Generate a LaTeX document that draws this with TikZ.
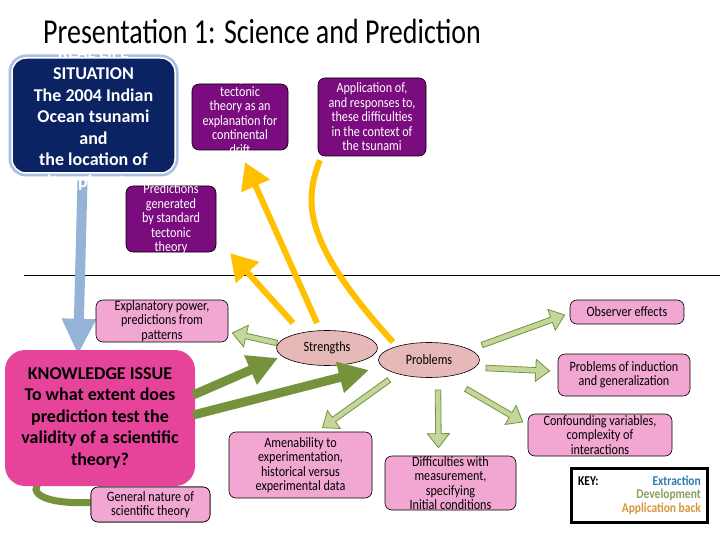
\documentclass[tikz,border=0pt]{standalone}
\usepackage{fontspec}
\setmainfont{Carlito}
\newfontfamily\boxfont{Carlito}[FakeStretch=0.85]
\newfontfamily\titlefont{Carlito}[FakeStretch=0.8]
\usetikzlibrary{arrows.meta,calc,shapes.geometric}

\definecolor{tsNavy}{HTML}{0B2362}
\definecolor{tsGlow}{HTML}{A9C0E2}
\definecolor{tsPurple}{HTML}{7B0C80}
\definecolor{tsPink}{HTML}{F2A7D2}
\definecolor{tsMagenta}{HTML}{E6449B}
\definecolor{tsRose}{HTML}{E6B9B8}
\definecolor{tsOlive}{HTML}{76923C}
\definecolor{tsLeaf}{HTML}{C3D69B}
\definecolor{tsYellow}{HTML}{FFC000}
\definecolor{tsBlue}{HTML}{95B3D7}
\definecolor{tsKeyBlue}{HTML}{2A7AB0}
\definecolor{tsKeyGreen}{HTML}{8A9E5E}
\definecolor{tsKeyOrange}{HTML}{D9963A}

\tikzset{
  rlbox/.style={fill=tsNavy, draw=white, line width=1.5pt, rounded corners=14pt,
    preaction={draw=tsGlow, line width=7pt}},
  purplebox/.style={fill=tsPurple, draw=black, line width=0.6pt, rounded corners=7pt},
  pinkbox/.style={fill=tsPink, draw=black, line width=0.6pt, rounded corners=7pt,
    align=center, inner sep=0pt, font=\boxfont\fontsize{14.3}{14.5}\selectfont},
  kibox/.style={fill=tsMagenta, draw=none, rounded corners=20pt, align=center,
    inner sep=0pt, font=\bfseries\fontsize{18}{21.5}\selectfont},
  boxtext/.style={align=center, inner sep=0pt, font=\boxfont\fontsize{14.3}{14.5}\selectfont},
  bigtext/.style={align=center, inner sep=0pt, font=\bfseries\fontsize{18}{21.5}\selectfont},
  bubble/.style={ellipse, fill=tsRose, draw=black, line width=0.6pt, inner sep=0pt,
    minimum width=101pt, minimum height=35pt, font=\boxfont\fontsize{14.3}{14.5}\selectfont},
  keytext/.style={inner sep=0pt, font=\boxfont\bfseries\fontsize{13.5}{14}\selectfont},
  extractarrow/.style={draw=tsBlue, line width=10pt, -{Triangle[length=36pt,width=32pt]}},
  appback/.style={draw=tsYellow, line width=6pt, -{Triangle[length=26pt,width=30pt]}},
  appcurve/.style={draw=tsYellow, line width=6pt},
  develop/.style={draw=tsOlive, line width=9pt, -{Triangle[length=30pt,width=30pt]}},
  devcurve/.style={draw=tsOlive, line width=7pt},
  leafarrow/.style={fill=tsLeaf, draw=tsOlive, line width=0.8pt, line join=miter}
}

% outlined block arrow from #1 to the tip #2
\newcommand{\leafarrow}[2]{%
  \coordinate (la-s) at (#1);
  \coordinate (la-t) at (#2);
  \coordinate (la-h) at ($(la-t)!14pt!(la-s)$);
  \draw[leafarrow] ($(la-s)!2.8pt!90:(la-t)$) -- ($(la-h)!2.8pt!90:(la-t)$)
    -- ($(la-h)!11pt!90:(la-t)$) -- (la-t) -- ($(la-h)!11pt!-90:(la-t)$)
    -- ($(la-h)!2.8pt!-90:(la-t)$) -- ($(la-s)!2.8pt!-90:(la-t)$) -- cycle;}

\begin{document}
\begin{tikzpicture}[x=1pt,y=-1pt]
  \useasboundingbox (0,0) rectangle (720,540);
  \fill[white] (0,0) rectangle (720,540);

  \node[inner sep=0pt, anchor=base west, font=\titlefont\fontsize{35}{35}\selectfont]
    (title) at (43,44) {Presentation 1: Science and Prediction};

  \draw[line width=0.8pt] (24,275) -- (720,275);

  % positions of the boxes
  \coordinate (situation-c) at (93.5,115.5);
  \coordinate (drift-c) at (240,117);
  \coordinate (apply-c) at (372,117);
  \coordinate (predict-c) at (171,219);
  \coordinate (kissue-c) at (100,418);

  % application back (drawn under the boxes)
  \path (predict-c) node[minimum width=90pt, minimum height=66pt] (predict) {};
  \path (drift-c) node[minimum width=96pt, minimum height=66pt] (drift) {};
  \path (apply-c) node[minimum width=108pt, minimum height=78pt] (apply) {};
  \path (kissue-c) node[minimum width=190pt, minimum height=136pt] (kissue) {};
  \node[bubble] (stren) at (327,348) {Strengths};
  \node[bubble] (prob) at (429,360) {Problems};
  \node[pinkbox, minimum width=119pt, minimum height=35pt] (general) at (150.5,504.5)
    {General nature of\\scientific theory};

  \draw[appback] ($(stren)+(-34,-25)$) -- ($(predict.south east)+(14,1)$);
  \draw[appback] ($(stren)+(-10,-25)$) -- ($(drift.south)+(5,12)$);
  \draw[appcurve] ($(prob)+(-36,-18)$) .. controls (300,240) and (305,200)
    .. ($(apply.south west)+(2,4)$);

  % extraction
  \draw[extractarrow] ($(situation-c)+(-11,65)$) -- ($(kissue.north)+(-22,5)$);

  % development
  \draw[devcurve] ($(general.west)+(2,-2)$) .. controls (28,505) and (28,485)
    .. ($(kissue.south west)+(42,-8)$);

  % top boxes
  \node[rlbox, minimum width=163pt, minimum height=115pt] (situation) at (situation-c) {};
  \node[bigtext, text=white] (situation-t) at (93.5,118.5)
    {REAL LIFE\\SITUATION\\The 2004 Indian\\Ocean tsunami\\and\\the location of\\its epicentre};
  \node[purplebox, minimum width=96pt, minimum height=66pt] at (drift-c) {};
  \node[boxtext, text=white] (drift-t) at (240,113)
    {Strength of\\tectonic\\theory as an\\explanation for\\continental\\drift};
  \node[purplebox, minimum width=108pt, minimum height=78pt] at (apply-c) {};
  \node[boxtext, text=white] (apply-t) at (372,117)
    {Application of,\\and responses to,\\these difficulties\\in the context of\\the tsunami};
  \node[purplebox, minimum width=90pt, minimum height=66pt] at (predict-c) {};
  \node[boxtext, text=white] (predict-t) at (171,219)
    {Predictions\\generated\\by standard\\tectonic\\theory};

  % knowledge issue
  \node[kibox, minimum width=190pt, minimum height=136pt] at (kissue-c)
    {KNOWLEDGE ISSUE\\To what extent does\\prediction test the\\validity of a scientific\\theory?};
  \node[pinkbox, minimum width=119pt, minimum height=35pt] at (general) {General nature of\\scientific theory};

  \draw[develop] ($(kissue.east)+(-2,-23)$) -- ($(stren)+(-49,10)$);
  \draw[develop] ($(kissue.east)+(-2,-3)$) -- ($(prob)+(-60,10)$);

  % strengths and problems
  \node[pinkbox, minimum width=132pt, minimum height=42pt] (expl) at (162,321)
    {Explanatory power,\\predictions from\\patterns};
  \node[pinkbox, minimum width=143pt, minimum height=66pt] (amen) at (300.5,465)
    {Amenability to\\experimentation,\\historical versus\\experimental data};
  \node[pinkbox, minimum width=131pt, minimum height=54pt] (difficult) at (450.5,483) {};
  \node[boxtext] (difficult-t) at (450.5,483)
    {Difficulties with\\measurement,\\specifying\\Initial conditions};
  \node[pinkbox, minimum width=144pt, minimum height=42pt] (confound) at (600,435)
    {Confounding variables,\\complexity of\\interactions};
  \node[pinkbox, minimum width=114pt, minimum height=24pt] (observe) at (627,312)
    {Observer effects};
  \node[pinkbox, minimum width=132pt, minimum height=42pt] (induct) at (624,375)
    {Problems of induction\\and generalization};

  \leafarrow{$(stren)+(-50,-5)$}{$(expl.east)+(4,12)$}
  \leafarrow{$(prob)+(53,-15)$}{$(observe.west)+(-5,3)$}
  \leafarrow{$(prob)+(57,8)$}{$(induct.west)+(-8,-4)$}
  \leafarrow{$(prob)+(37,29)$}{$(confound.west)+(-5,-13)$}
  \leafarrow{$(prob)+(9,30)$}{$(difficult.north)+(-12,-8)$}
  \leafarrow{$(prob)+(-40,20)$}{$(amen.north)+(22,-4)$}

  % key
  \node[draw=black, line width=3pt, fill=white, minimum width=136pt, minimum height=54pt]
    (key) at (639,495) {};
  \node[keytext, anchor=west] (key-k) at (578,481) {KEY:};
  \node[keytext, anchor=east, text=tsKeyBlue] (key-e) at (701,481) {Extraction};
  \node[keytext, anchor=east, text=tsKeyGreen] (key-d) at (701,495) {Development};
  \node[keytext, anchor=east, text=tsKeyOrange] (key-a) at (701,509) {Application back};
\end{tikzpicture}
\end{document}
